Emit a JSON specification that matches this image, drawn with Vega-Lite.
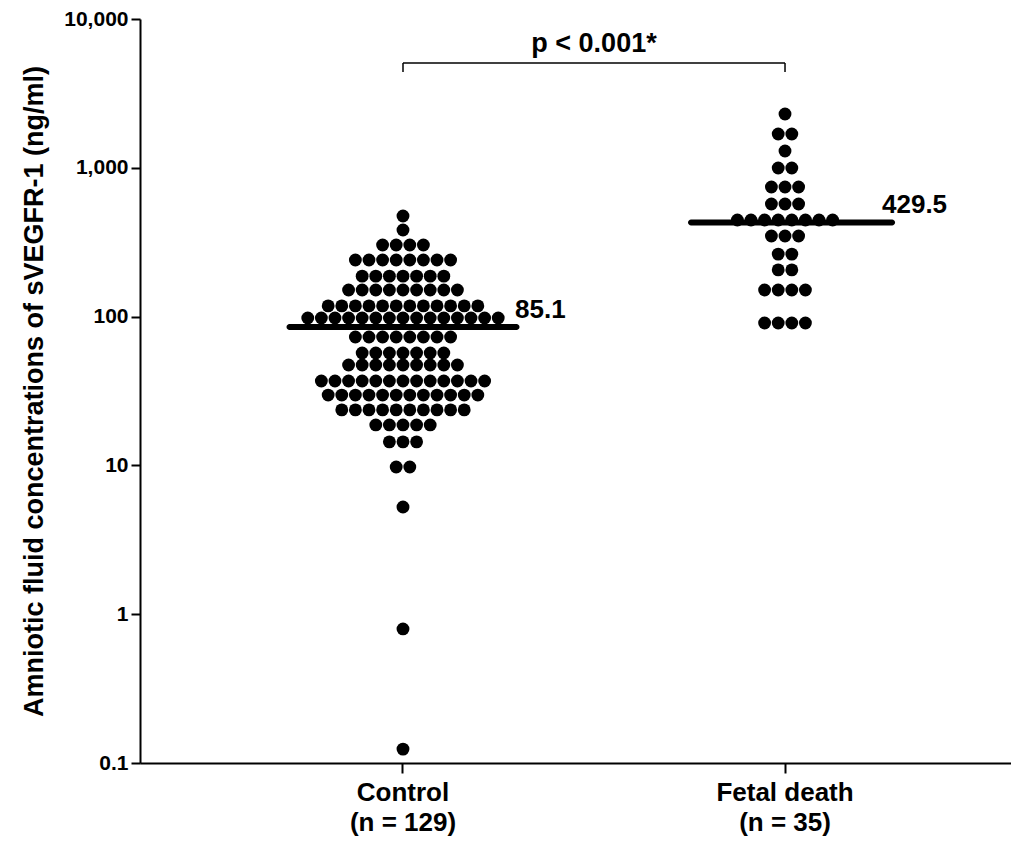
{
  "$schema": "https://vega.github.io/schema/vega-lite/v6.json",
  "width": 871,
  "height": 744,
  "autosize": "none",
  "padding": {"left": 140, "top": 19, "right": 0, "bottom": 79},
  "background": "white",
  "config": {
    "view": {"stroke": null},
    "font": "Liberation Sans",
    "axis": {"grid": false, "domainColor": "black", "domainWidth": 2, "tickColor": "black", "tickWidth": 2, "labelColor": "black", "titleColor": "black", "labelFont": "Liberation Sans", "titleFont": "Liberation Sans", "labelFontWeight": "bold", "titleFontWeight": "bold"}
  },
  "datasets": {
    "dots": [
      {"g":"Control","v":474,"s":0},
      {"g":"Control","v":382,"s":0},
      {"g":"Control","v":303,"s":-1.5},{"g":"Control","v":303,"s":-0.5},{"g":"Control","v":303,"s":0.5},{"g":"Control","v":303,"s":1.5},
      {"g":"Control","v":240,"s":-3.5},{"g":"Control","v":240,"s":-2.5},{"g":"Control","v":240,"s":-1.5},{"g":"Control","v":240,"s":-0.5},{"g":"Control","v":240,"s":0.5},{"g":"Control","v":240,"s":1.5},{"g":"Control","v":240,"s":2.5},{"g":"Control","v":240,"s":3.5},
      {"g":"Control","v":187,"s":-3},{"g":"Control","v":187,"s":-2},{"g":"Control","v":187,"s":-1},{"g":"Control","v":187,"s":0},{"g":"Control","v":187,"s":1},{"g":"Control","v":187,"s":2},{"g":"Control","v":187,"s":3},
      {"g":"Control","v":151,"s":-4},{"g":"Control","v":151,"s":-3},{"g":"Control","v":151,"s":-2},{"g":"Control","v":151,"s":-1},{"g":"Control","v":151,"s":0},{"g":"Control","v":151,"s":1},{"g":"Control","v":151,"s":2},{"g":"Control","v":151,"s":3},{"g":"Control","v":151,"s":4},
      {"g":"Control","v":118,"s":-5.5},{"g":"Control","v":118,"s":-4.5},{"g":"Control","v":118,"s":-3.5},{"g":"Control","v":118,"s":-2.5},{"g":"Control","v":118,"s":-1.5},{"g":"Control","v":118,"s":-0.5},{"g":"Control","v":118,"s":0.5},{"g":"Control","v":118,"s":1.5},{"g":"Control","v":118,"s":2.5},{"g":"Control","v":118,"s":3.5},{"g":"Control","v":118,"s":4.5},{"g":"Control","v":118,"s":5.5},
      {"g":"Control","v":97.9,"s":-7},{"g":"Control","v":97.9,"s":-6},{"g":"Control","v":97.9,"s":-5},{"g":"Control","v":97.9,"s":-4},{"g":"Control","v":97.9,"s":-3},{"g":"Control","v":97.9,"s":-2},{"g":"Control","v":97.9,"s":-1},{"g":"Control","v":97.9,"s":0},{"g":"Control","v":97.9,"s":1},{"g":"Control","v":97.9,"s":2},{"g":"Control","v":97.9,"s":3},{"g":"Control","v":97.9,"s":4},{"g":"Control","v":97.9,"s":5},{"g":"Control","v":97.9,"s":6},{"g":"Control","v":97.9,"s":7},
      {"g":"Control","v":72.9,"s":-3.5},{"g":"Control","v":72.9,"s":-2.5},{"g":"Control","v":72.9,"s":-1.5},{"g":"Control","v":72.9,"s":-0.5},{"g":"Control","v":72.9,"s":0.5},{"g":"Control","v":72.9,"s":1.5},{"g":"Control","v":72.9,"s":2.5},{"g":"Control","v":72.9,"s":3.5},
      {"g":"Control","v":56.9,"s":-3},{"g":"Control","v":56.9,"s":-2},{"g":"Control","v":56.9,"s":-1},{"g":"Control","v":56.9,"s":0},{"g":"Control","v":56.9,"s":1},{"g":"Control","v":56.9,"s":2},{"g":"Control","v":56.9,"s":3},
      {"g":"Control","v":47.3,"s":-4},{"g":"Control","v":47.3,"s":-3},{"g":"Control","v":47.3,"s":-2},{"g":"Control","v":47.3,"s":-1},{"g":"Control","v":47.3,"s":0},{"g":"Control","v":47.3,"s":1},{"g":"Control","v":47.3,"s":2},{"g":"Control","v":47.3,"s":3},{"g":"Control","v":47.3,"s":4},
      {"g":"Control","v":36.9,"s":-6},{"g":"Control","v":36.9,"s":-5},{"g":"Control","v":36.9,"s":-4},{"g":"Control","v":36.9,"s":-3},{"g":"Control","v":36.9,"s":-2},{"g":"Control","v":36.9,"s":-1},{"g":"Control","v":36.9,"s":0},{"g":"Control","v":36.9,"s":1},{"g":"Control","v":36.9,"s":2},{"g":"Control","v":36.9,"s":3},{"g":"Control","v":36.9,"s":4},{"g":"Control","v":36.9,"s":5},{"g":"Control","v":36.9,"s":6},
      {"g":"Control","v":29.7,"s":-5.5},{"g":"Control","v":29.7,"s":-4.5},{"g":"Control","v":29.7,"s":-3.5},{"g":"Control","v":29.7,"s":-2.5},{"g":"Control","v":29.7,"s":-1.5},{"g":"Control","v":29.7,"s":-0.5},{"g":"Control","v":29.7,"s":0.5},{"g":"Control","v":29.7,"s":1.5},{"g":"Control","v":29.7,"s":2.5},{"g":"Control","v":29.7,"s":3.5},{"g":"Control","v":29.7,"s":4.5},{"g":"Control","v":29.7,"s":5.5},
      {"g":"Control","v":23.6,"s":-4.5},{"g":"Control","v":23.6,"s":-3.5},{"g":"Control","v":23.6,"s":-2.5},{"g":"Control","v":23.6,"s":-1.5},{"g":"Control","v":23.6,"s":-0.5},{"g":"Control","v":23.6,"s":0.5},{"g":"Control","v":23.6,"s":1.5},{"g":"Control","v":23.6,"s":2.5},{"g":"Control","v":23.6,"s":3.5},{"g":"Control","v":23.6,"s":4.5},
      {"g":"Control","v":18.7,"s":-2},{"g":"Control","v":18.7,"s":-1},{"g":"Control","v":18.7,"s":0},{"g":"Control","v":18.7,"s":1},{"g":"Control","v":18.7,"s":2},
      {"g":"Control","v":14.4,"s":-1},{"g":"Control","v":14.4,"s":0},{"g":"Control","v":14.4,"s":1},
      {"g":"Control","v":9.75,"s":-0.5},{"g":"Control","v":9.75,"s":0.5},
      {"g":"Control","v":5.25,"s":0},
      {"g":"Control","v":0.796,"s":0},
      {"g":"Control","v":0.124,"s":0},
      {"g":"Fetal death","v":2300,"s":0},
      {"g":"Fetal death","v":1687,"s":-0.5},{"g":"Fetal death","v":1687,"s":0.5},
      {"g":"Fetal death","v":1297,"s":0},
      {"g":"Fetal death","v":997,"s":-0.5},{"g":"Fetal death","v":997,"s":0.5},
      {"g":"Fetal death","v":743,"s":-1},{"g":"Fetal death","v":743,"s":0},{"g":"Fetal death","v":743,"s":1},
      {"g":"Fetal death","v":571,"s":-1},{"g":"Fetal death","v":571,"s":0},{"g":"Fetal death","v":571,"s":1},
      {"g":"Fetal death","v":446,"s":-3.5},{"g":"Fetal death","v":446,"s":-2.5},{"g":"Fetal death","v":446,"s":-1.5},{"g":"Fetal death","v":446,"s":-0.5},{"g":"Fetal death","v":446,"s":0.5},{"g":"Fetal death","v":446,"s":1.5},{"g":"Fetal death","v":446,"s":2.5},{"g":"Fetal death","v":446,"s":3.5},
      {"g":"Fetal death","v":348,"s":-1},{"g":"Fetal death","v":348,"s":0},{"g":"Fetal death","v":348,"s":1},
      {"g":"Fetal death","v":263,"s":-0.5},{"g":"Fetal death","v":263,"s":0.5},
      {"g":"Fetal death","v":206,"s":-0.5},{"g":"Fetal death","v":206,"s":0.5},
      {"g":"Fetal death","v":151,"s":-1.5},{"g":"Fetal death","v":151,"s":-0.5},{"g":"Fetal death","v":151,"s":0.5},{"g":"Fetal death","v":151,"s":1.5},
      {"g":"Fetal death","v":90.6,"s":-1.5},{"g":"Fetal death","v":90.6,"s":-0.5},{"g":"Fetal death","v":90.6,"s":0.5},{"g":"Fetal death","v":90.6,"s":1.5}
    ]
  },
  "layer": [
    {
      "data": {"name": "dots"},
      "mark": {"type": "point", "shape": "circle", "filled": true, "color": "black", "opacity": 1, "size": 165},
      "encoding": {
        "x": {"field": "g", "type": "nominal", "sort": ["Control", "Fetal death"],
              "scale": {"type": "band", "domain": ["Control", "Fetal death"], "paddingInner": 0, "paddingOuter": 0.14, "align": 0.673},
              "axis": {"title": null, "labelAngle": 0, "tickSize": 10, "labelPadding": 6, "labelFontSize": 26, "labelLineHeight": 30, "labelBaseline": "top",
                       "labelExpr": "datum.value == 'Control' ? ['Control', '(n = 129)'] : ['Fetal death', '(n = 35)']"}},
        "xOffset": {"field": "s", "type": "quantitative", "scale": {"domain": [-14.04, 14.04]}},
        "y": {"field": "v", "type": "quantitative",
              "scale": {"type": "log", "domain": [0.1, 10000]},
              "axis": {"title": "Amniotic fluid concentrations of sVEGFR-1 (ng/ml)", "values": [0.1, 1, 10, 100, 1000, 10000], "format": ",", "tickSize": 9, "labelPadding": 3, "labelFontSize": 21, "titleFontSize": 27, "titleX": -106, "titleY": 372, "titleAngle": 270, "titleAlign": "center", "titleBaseline": "middle"}}
      }
    },
    {
      "data": {"values": [{"g": "Control", "v": 85.1, "s": 0}]},
      "mark": {"type": "tick", "orient": "horizontal", "size": 233, "thickness": 6, "color": "black", "opacity": 1, "cornerRadius": 3},
      "encoding": {
        "x": {"field": "g", "type": "nominal"},
        "xOffset": {"field": "s", "type": "quantitative"},
        "y": {"field": "v", "type": "quantitative"}
      }
    },
    {
      "data": {"values": [{"g": "Fetal death", "v": 429.5, "s": 0.48}]},
      "mark": {"type": "tick", "orient": "horizontal", "size": 207, "thickness": 6, "color": "black", "opacity": 1, "cornerRadius": 3},
      "encoding": {
        "x": {"field": "g", "type": "nominal"},
        "xOffset": {"field": "s", "type": "quantitative"},
        "y": {"field": "v", "type": "quantitative"}
      }
    },
    {
      "data": {"values": [{"g": "Control", "v": 85.1, "s": 8.24, "t": "85.1"}, {"g": "Fetal death", "v": 429.5, "s": 7.13, "t": "429.5"}]},
      "mark": {"type": "text", "align": "left", "baseline": "middle", "dy": -17, "fontSize": 26, "fontWeight": "bold", "color": "black"},
      "encoding": {
        "x": {"field": "g", "type": "nominal"},
        "xOffset": {"field": "s", "type": "quantitative"},
        "y": {"field": "v", "type": "quantitative"},
        "text": {"field": "t"}
      }
    },
    {
      "data": {"values": [{"g": "Control", "g2": "Fetal death", "v": 5070}]},
      "mark": {"type": "rule", "color": "black", "strokeWidth": 1.5},
      "encoding": {
        "x": {"field": "g", "type": "nominal"},
        "x2": {"field": "g2"},
        "y": {"field": "v", "type": "quantitative"}
      }
    },
    {
      "data": {"values": [{"g": "Control", "v": 4406, "v2": 5070}, {"g": "Fetal death", "v": 4406, "v2": 5070}]},
      "mark": {"type": "rule", "color": "black", "strokeWidth": 1.5},
      "encoding": {
        "x": {"field": "g", "type": "nominal"},
        "y": {"field": "v", "type": "quantitative"},
        "y2": {"field": "v2"}
      }
    },
    {
      "data": {"values": [{"g": "Control", "s": 14.04, "v": 6800, "t": "p < 0.001*"}]},
      "mark": {"type": "text", "align": "center", "baseline": "middle", "fontSize": 27, "fontWeight": "bold", "color": "black"},
      "encoding": {
        "x": {"field": "g", "type": "nominal"},
        "xOffset": {"field": "s", "type": "quantitative"},
        "y": {"field": "v", "type": "quantitative"},
        "text": {"field": "t"}
      }
    },
    {
      "mark": {"type": "rule", "color": "black", "strokeWidth": 2},
      "encoding": {"y": {"datum": 10000, "type": "quantitative"}}
    }
  ]
}
